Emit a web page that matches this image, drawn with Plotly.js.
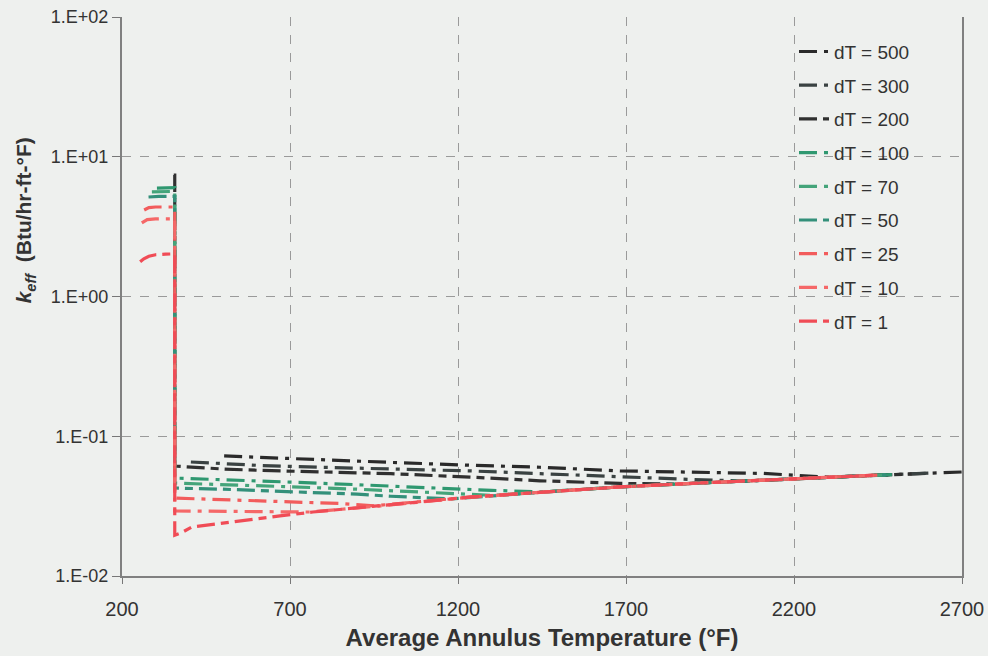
<!DOCTYPE html>
<html>
<head>
<meta charset="utf-8">
<script src="https://cdn.plot.ly/plotly-3.0.1.min.js"></script>
<style>
html,body{margin:0;padding:0;background:#eef0ee;}
#chart{width:988px;height:656px;}
</style>
</head>
<body>
<div id="chart"></div>
<script>
// Series names
const seriesNames = ["dT = 500","dT = 300","dT = 200","dT = 100","dT = 70","dT = 50","dT = 25","dT = 10","dT = 1"];

// Average annulus temperature (°F) and k_eff (Btu/hr-ft-°F)
const T_dT500 = [504, 611, 789, 1000, 1236, 1444, 1682, 1920, 2108, 2300, 2456, 2600, 2700];
const K_dT500 = [0.0723, 0.0705, 0.0680, 0.0650, 0.0620, 0.0600, 0.0565, 0.0550, 0.0542, 0.0510, 0.0528, 0.0545, 0.0555];

const T_dT300 = [405, 500, 611, 789, 1000, 1236, 1444, 1682, 1900, 2050, 2188, 2456, 2600];
const K_dT300 = [0.0654, 0.0635, 0.0618, 0.0600, 0.0583, 0.0565, 0.0540, 0.0510, 0.0490, 0.0478, 0.0494, 0.0528, 0.0545];

const T_dT200 = [354, 357, 357, 500, 611, 789, 1000, 1236, 1444, 1682, 1850, 1920, 2188, 2456, 2550];
const K_dT200 = [7.4, 7.4, 0.0612, 0.0583, 0.0570, 0.0555, 0.0540, 0.0510, 0.0480, 0.0460, 0.0455, 0.0463, 0.0494, 0.0528, 0.0538];

const T_dT100 = [304, 330, 357, 357, 500, 700, 900, 1100, 1300, 1450, 1682, 1920, 2188, 2456, 2500];
const K_dT100 = [5.97, 6.0, 6.0, 0.0502, 0.0490, 0.0470, 0.0450, 0.0428, 0.0410, 0.0400, 0.0434, 0.0463, 0.0494, 0.0528, 0.0533];

const T_dT70 = [289, 320, 357, 357, 500, 700, 900, 1100, 1300, 1459, 1682, 1920, 2188, 2456, 2485];
const K_dT70 = [5.6, 5.65, 5.65, 0.0462, 0.0452, 0.0435, 0.0418, 0.0398, 0.0378, 0.0399, 0.0434, 0.0463, 0.0494, 0.0528, 0.0531];

const T_dT50 = [279, 310, 357, 357, 500, 700, 900, 1000, 1180, 1459, 1682, 1920, 2188, 2456, 2475];
const K_dT50 = [5.15, 5.2, 5.2, 0.0426, 0.0418, 0.0402, 0.0385, 0.0372, 0.0356, 0.0399, 0.0434, 0.0463, 0.0494, 0.0528, 0.0530];

const T_dT25 = [266, 280, 300, 357, 357, 500, 700, 850, 950, 1236, 1459, 1682, 1920, 2188, 2462];
const K_dT25 = [4.16, 4.33, 4.37, 4.37, 0.0361, 0.0352, 0.0340, 0.0330, 0.0318, 0.0367, 0.0399, 0.0434, 0.0463, 0.0494, 0.0529];

const T_dT10 = [259, 275, 300, 357, 357, 500, 650, 760, 998, 1236, 1459, 1682, 1920, 2188, 2455];
const K_dT10 = [3.36, 3.55, 3.59, 3.60, 0.0292, 0.0291, 0.0289, 0.0287, 0.0322, 0.0367, 0.0399, 0.0434, 0.0463, 0.0494, 0.0528];

const T_dT1 = [254, 265, 280, 300, 330, 357, 357, 375, 408, 462, 560, 670, 768, 998, 1236, 1459, 1682, 1920, 2188, 2450];
const K_dT1 = [1.77, 1.86, 1.94, 1.99, 2.01, 2.02, 0.0196, 0.0203, 0.0224, 0.0232, 0.0248, 0.0269, 0.0287, 0.0322, 0.0367, 0.0399, 0.0434, 0.0463, 0.0494, 0.0527];

// Axis ticks
const xTickVals = [200, 700, 1200, 1700, 2200, 2700];
const yTickVals = [0.01, 0.1, 1, 10, 100];
const yTickText = ["1.E-02", "1.E-01", "1.E+00", "1.E+01", "1.E+02"];

const Ts = [T_dT500, T_dT300, T_dT200, T_dT100, T_dT70, T_dT50, T_dT25, T_dT10, T_dT1];
const Ks = [K_dT500, K_dT300, K_dT200, K_dT100, K_dT70, K_dT50, K_dT25, K_dT10, K_dT1];

const colors = ["#2a2a2a", "#3a4242", "#303030", "#2f9870", "#44a47a", "#33907a", "#f25c5c", "#f56868", "#f04c56"];
const dashDot = "18px,7px,4px,7px";
const dashDash = "18px,6px,8px,6px";
const dashes = [dashDot, dashDot, dashDash, dashDot, dashDot, dashDash, dashDot, dashDot, dashDash];

const traces = seriesNames.map((n, i) => ({
  x: Ts[i], y: Ks[i], name: n, type: "scatter", mode: "lines",
  legendgroup: "g" + i,
  line: {color: colors[i], width: 3.2, dash: dashes[i]}
}));

const layout = {
  width: 988, height: 656,
  paper_bgcolor: "#eef0ee", plot_bgcolor: "#eef0ee",
  margin: {l: 122, r: 26, t: 17, b: 80},
  font: {family: "Liberation Sans, Arial, sans-serif", color: "#333"},
  showlegend: true,
  legend: {x: 0.80, y: 0.972, xanchor: "left", yanchor: "top", bgcolor: "rgba(0,0,0,0)",
           font: {size: 19, color: "#333"}, tracegroupgap: 6, traceorder: "grouped"},
  xaxis: {
    range: [200, 2700], tickvals: xTickVals, ticks: "outside", ticklen: 6, tickcolor: "#777",
    tickfont: {size: 20, color: "#333"}, ticklabelstandoff: 8,
    showline: true, linecolor: "#808080", linewidth: 2,
    showgrid: true, gridcolor: "#9a9a9a", griddash: "dash", gridwidth: 1, zeroline: false,
    title: {text: "<b>Average Annulus Temperature (°F)</b>", font: {size: 24, color: "#333"}, standoff: 10}
  },
  yaxis: {
    type: "log", range: [-2, 2], tickvals: yTickVals, ticktext: yTickText,
    ticks: "outside", ticklen: 8, tickcolor: "#777",
    tickfont: {size: 18, color: "#333"},
    showline: true, mirror: true, linecolor: "#808080", linewidth: 2,
    showgrid: true, gridcolor: "#9a9a9a", griddash: "dash", gridwidth: 1, zeroline: false
  },
  annotations: [{
    text: "<b><i>k<sub>eff</sub></i>  (Btu/hr-ft-°F)</b>",
    xref: "paper", yref: "paper", x: -0.115, y: 0.637, xanchor: "center", yanchor: "middle",
    textangle: -90, showarrow: false, font: {size: 21, color: "#333"}
  }]
};

Plotly.newPlot("chart", traces, layout, {displayModeBar: false, staticPlot: true});
</script>
</body>
</html>
